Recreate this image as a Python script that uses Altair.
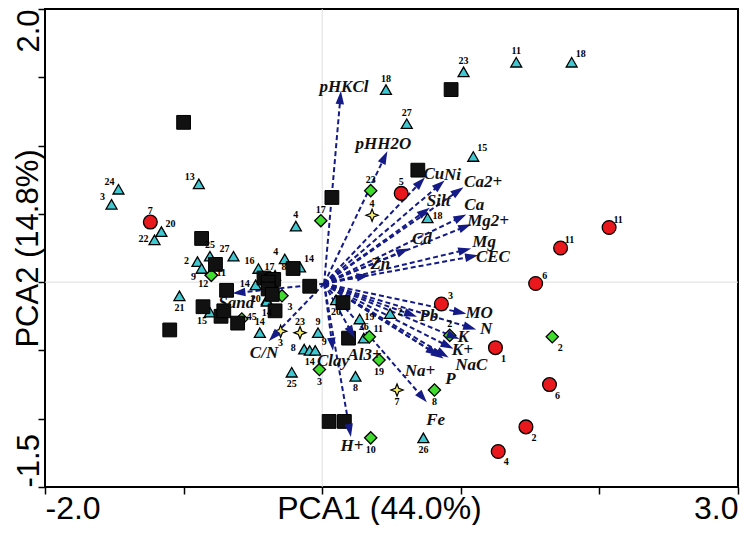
import math
import altair as alt
import pandas as pd

# ---------------- data (PCA1, PCA2 scores) ----------------
circle_x = [-1.24, 0.57, 2.07, 1.72, 1.54, 0.86, 1.25, 1.64, 1.47, 1.27]
circle_y = [0.44, 0.65, 0.40, 0.25, -0.01, -0.16, -0.48, -0.75, -1.06, -1.24]
circle_lab = ["7", "5", "11", "11", "6", "3", "1", "6", "2", "4"]
circle_pos = ["t", "t", "tr", "tr", "tr", "tr", "br", "br", "br", "br"]

tri_x = [-1.47, -1.52, -0.89, -1.16, -1.21, -0.81, -0.90, -0.87, -0.64, -1.03,
         -0.81, -0.19, -0.27, -0.16, -0.46, -0.38, -0.34, -0.48, -0.40, -0.40,
         -0.45, -0.03, -0.13, -0.09, -0.05, -0.22, 0.30, 0.27, 0.10, 0.49,
         0.24, 0.73, 0.76, 1.09, 0.46, 0.61, 1.02, 1.40, 1.80]
tri_y = [0.68, 0.57, 0.72, 0.37, 0.31, 0.19, 0.15, 0.10, 0.19, -0.10,
         -0.22, 0.41, 0.17, 0.11, 0.10, 0.03, 0.05, -0.02, -0.13, -0.14,
         -0.37, -0.37, -0.49, -0.50, -0.50, -0.66, -0.41, -0.27, -0.13, -0.23,
         -0.69, -1.14, 0.47, 0.92, 1.41, 1.16, 1.54, 1.61, 1.61]
tri_lab = ["24", "3", "13", "20", "22", "25", "2", "9", "27", "21",
           "15", "4", "4", "14", "16", "17", "8", "14", "20", "14",
           "14", "9", "8", "14", "9", "25", "26", "19", "20", "2",
           "8", "26", "18", "15", "18", "27", "23", "11", "18"]
tri_pos = ["tl", "tl", "tl", "tr", "l", "t", "l", "bl", "tl", "b",
           "bl", "t", "tl", "tr", "tl", "t", "tr", "l", "l", "b",
           "t", "t", "l", "b", "tr", "b", "t", "r", "b", "r",
           "b", "b", "r", "tr", "t", "t", "t", "t", "tr"]

dia_x = [-0.01, 0.35, -0.80, -0.80, -0.29, -0.58, 0.34, 0.41, 0.92, 0.81, 1.66, 0.35, -0.02]
dia_y = [0.45, 0.67, 0.05, 0.05, -0.10, -0.27, -0.40, -0.57, -0.39, -0.79, -0.40, -1.14, -0.64]
dia_lab = ["17", "23", "11", "12", "3", "45", "11", "19", "2", "8", "2", "10", "3"]
dia_pos = ["t", "t", "r", "bl", "br", "r", "tr", "b", "t", "b", "br", "b", "b"]

star_x = [0.36, -0.30, -0.16, 0.54]
star_y = [0.49, -0.36, -0.37, -0.79]
star_lab = ["4", "3", "23", "7"]
star_pos = ["t", "b", "t", "b"]

sq_x = [-1.00, 0.93, 0.07, 0.69, -0.87, -0.77, -0.69, -0.86, -0.73, -0.71, -0.61, -1.10,
        -0.34, -0.42, -0.37, -0.35, -0.39, -0.39, -0.36, -0.21, -0.09, 0.15, 0.19, 0.05, 0.16]
sq_y = [1.17, 1.41, 0.62, 0.82, 0.32, 0.13, -0.06, -0.18, -0.25, -0.21, -0.30, -0.35,
        -0.21, 0.03, 0.01, 0.02, 0.00, -0.05, -0.09, 0.10, -0.03, -0.15, -0.41, -1.02, -1.02]

# ---------------- loadings (arrows) ----------------
origin_x, origin_y = 0.014, -0.011
var_names = ["pHKCl", "pHH2O", "Cu", "Ni", "Ca2+", "Silt", "Ca", "Mg2+", "Mg", "CEC", "Cd", "Zn",
             "MO", "N", "Pb", "K", "K+", "NaC", "Na+", "P", "Fe", "Al3+", "Clay", "H+", "C/N", "Sand"]
var_x = [0.135, 0.470, 0.741, 0.883, 1.019, 0.776, 1.040, 1.075, 1.075, 1.125, 0.627, 0.342,
         1.040, 1.111, 0.684, 0.990, 0.947, 0.912, 0.840, 0.876, 0.755, 0.235, 0.078, 0.207, -0.385, -0.648]
var_y = [1.399, 0.958, 0.766, 0.744, 0.694, 0.545, 0.495, 0.424, 0.246, 0.196, 0.246, 0.053,
         -0.231, -0.346, -0.253, -0.417, -0.488, -0.552, -0.538, -0.559, -0.880, -0.410, -0.502, -1.133, -0.431, -0.082]
var_lx = [0.157, 0.442, 0.805, 0.940, 1.161, 0.840, 1.097, 1.197, 1.168, 1.232, 0.719, 0.420,
          1.132, 1.182, 0.769, 1.018, 1.011, 1.075, 0.705, 0.926, 0.819, 0.306, 0.078, 0.214, -0.420, -0.620]
var_ly = [1.428, 1.014, 0.794, 0.787, 0.730, 0.595, 0.566, 0.445, 0.296, 0.182, 0.317, 0.132,
          -0.224, -0.346, -0.246, -0.402, -0.495, -0.609, -0.652, -0.709, -1.008, -0.531, -0.580, -1.200, -0.516, -0.153]

# ---------------- layout / style ----------------
W, H = 693, 478
PX_X = W / 5.0
PX_Y = H / 3.5
NAVY = "#141a86"
HEAD_PATH = "M0,-1L0.65,1L-0.65,1Z"
HEAD_SIZE = 170
STAR_PATH = "M0,-1L0.28,-0.28L1,0L0.28,0.28L0,1L-0.28,0.28L-1,0L-0.28,-0.28Z"
OFFS = {"t": (0, -11), "b": (0, 12), "l": (-11, -1), "r": (10, -2), "tr": (9, -8),
        "tl": (-9, -7), "br": (8, 11), "bl": (-8, 9)}


def pts(xs, ys, labs=None, poss=None):
    df = pd.DataFrame({"x": xs, "y": ys})
    if labs is not None:
        df["lab"] = labs
        df["lx"] = [x + OFFS[p][0] / PX_X for x, p in zip(xs, poss)]
        df["ly"] = [y - OFFS[p][1] / PX_Y for y, p in zip(ys, poss)]
    return df


circles = pts(circle_x, circle_y, circle_lab, circle_pos)
tris = pts(tri_x, tri_y, tri_lab, tri_pos)
dias = pts(dia_x, dia_y, dia_lab, dia_pos)
stars = pts(star_x, star_y, star_lab, star_pos)
squares = pts(sq_x, sq_y)
labels_df = pd.concat([circles, tris, dias, stars], ignore_index=True)

rows = []
half = math.sqrt(HEAD_SIZE) / 2
for n, tx, ty, lx, ly in zip(var_names, var_x, var_y, var_lx, var_ly):
    dxp = (tx - origin_x) * PX_X
    dyp = (ty - origin_y) * PX_Y
    L = math.hypot(dxp, dyp)
    ang = math.degrees(math.atan2(dxp, dyp)) % 360
    hx = tx - half * dxp / L / PX_X
    hy = ty - half * dyp / L / PX_Y
    rows.append({"name": n, "ox": origin_x, "oy": origin_y, "hx": hx, "hy": hy,
                 "ang": ang, "lx": lx, "ly": ly})
arrows = pd.DataFrame(rows)

xscale = alt.Scale(domain=[-2, 3], nice=False, zero=False)
yscale = alt.Scale(domain=[-1.5, 2], nice=False, zero=False)

xaxis = alt.Axis(
    values=[-2, -1, 0, 1, 2, 3],
    labelExpr="datum.value == -2 ? '-2.0' : (datum.value == 3 ? '3.0' : '')",
    labelFlush=True, labelBaseline="alphabetic", labelPadding=24,
    labelFont="Liberation Sans", labelFontSize=32, labelColor="black",
    tickSize=7, tickWidth=1.5, tickColor="black", domain=False, grid=False,
    titleFont="Liberation Sans", titleFontSize=32, titleFontWeight="normal",
    titleColor="black", titleBaseline="alphabetic", titleY=31, titleX=334,
    titleAlign="center",
)
yaxis = alt.Axis(
    values=[-1.5, -1, -0.5, 0, 0.5, 1, 1.5, 2],
    labelExpr="datum.value == -1.5 ? '-1.5' : (datum.value == 2 ? '2.0' : '')",
    labelFlush=False, labelAngle=270, labelBaseline="alphabetic",
    labelAlign={"condition": {"test": "datum.value < 0", "value": "left"}, "value": "right"},
    labelPadding=0,
    labelFont="Liberation Sans", labelFontSize=31, labelColor="black",
    tickSize=7, tickWidth=1.5, tickColor="black", domain=False, grid=False,
    titleFont="Liberation Sans", titleFontSize=31, titleFontWeight="normal",
    titleColor="black", titleAngle=270, titleBaseline="alphabetic",
    titleX=-8, titleY=H / 2, titleAlign="center",
)


def X(f):
    return alt.X(f"{f}:Q", scale=xscale, axis=xaxis, title="PCA1 (44.0%)")


def Y(f):
    return alt.Y(f"{f}:Q", scale=yscale, axis=yaxis, title="PCA2 (14.8%)")


zero = pd.DataFrame({"v": [0.0]})
gridx = alt.Chart(zero).mark_rule(color="#dedede", strokeWidth=1).encode(x=X("v"))
gridy = alt.Chart(zero).mark_rule(color="#dedede", strokeWidth=1).encode(y=Y("v"))

lines = alt.Chart(arrows).mark_rule(color=NAVY, strokeWidth=2, strokeDash=[5, 3]).encode(
    x=X("ox"), y=Y("oy"), x2="hx:Q", y2="hy:Q")
heads = alt.Chart(arrows).mark_point(shape=HEAD_PATH, filled=True, color=NAVY, opacity=1,
                                     size=HEAD_SIZE, strokeWidth=0).encode(
    x=X("hx"), y=Y("hy"), angle=alt.Angle("ang:Q", scale=None))

tri_layer = alt.Chart(tris).mark_point(shape="triangle-up", filled=True, fill="#3fc8d2",
                                       stroke="black", strokeWidth=1.3, size=120, opacity=1).encode(
    x=X("x"), y=Y("y"))
dia_layer = alt.Chart(dias).mark_point(shape="diamond", filled=True, fill="#3fdc2e",
                                       stroke="black", strokeWidth=1.3, size=150, opacity=1).encode(
    x=X("x"), y=Y("y"))
star_layer = alt.Chart(stars).mark_point(shape=STAR_PATH, filled=True, fill="#f4ec6a",
                                         stroke="black", strokeWidth=1.2, size=150, opacity=1).encode(
    x=X("x"), y=Y("y"))
sq_layer = alt.Chart(squares).mark_point(shape="square", filled=True, fill="#111111",
                                         stroke="black", strokeWidth=1, size=190, opacity=1).encode(
    x=X("x"), y=Y("y"))
circ_layer = alt.Chart(circles).mark_point(shape="circle", filled=True, fill="#e8181c",
                                           stroke="black", strokeWidth=1.3, size=190, opacity=1).encode(
    x=X("x"), y=Y("y"))

pt_text = alt.Chart(labels_df).mark_text(font="Liberation Serif", fontWeight="bold", fontSize=10,
                                         color="black", baseline="middle", align="center").encode(
    x=X("lx"), y=Y("ly"), text="lab:N")
var_text = alt.Chart(arrows).mark_text(font="Liberation Serif", fontWeight="bold", fontStyle="italic",
                                       fontSize=17, color="#111111", baseline="middle",
                                       align="center").encode(
    x=X("lx"), y=Y("ly"), text="name:N")

chart = alt.layer(
    gridx, gridy, lines, tri_layer, dia_layer, star_layer, sq_layer, circ_layer,
    heads, pt_text, var_text
).properties(
    width=W, height=H,
    padding={"left": 37, "top": 1, "right": 2, "bottom": 38},
    autosize=alt.AutoSizeParams(type="none"),
).configure_view(stroke="black", strokeWidth=2)

chart.save("out.html", embed_options={"renderer": "svg", "actions": False})
